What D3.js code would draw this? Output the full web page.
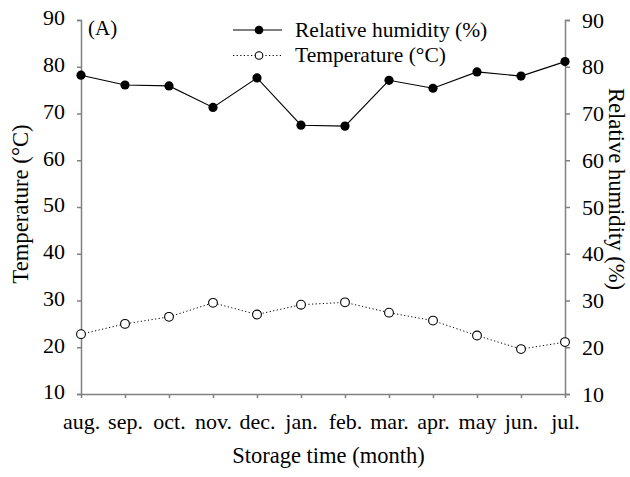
<!DOCTYPE html>
<html>
<head>
<meta charset="utf-8">
<script src="https://cdn.jsdelivr.net/npm/d3@7"></script>
<style>
  html, body { margin: 0; padding: 0; background: #fff; }
  svg { display: block; }
</style>
</head>
<body>
<svg id="chart" width="630" height="477"></svg>
<script>
// Monthly storage conditions
const months = ["aug.", "sep.", "oct.", "nov.", "dec.", "jan.", "feb.", "mar.", "apr.", "may", "jun.", "jul."];
const humidity = [78.2, 76.1, 75.9, 71.3, 77.6, 67.5, 67.3, 77.1, 75.4, 78.9, 78.0, 81.1];
const temperature = [22.8, 25.0, 26.5, 29.5, 27.0, 29.1, 29.6, 27.4, 25.7, 22.5, 19.6, 21.1];
const yTicks = [10, 20, 30, 40, 50, 60, 70, 80, 90];

const svg = d3.select("#chart");
const plotLeft = 81, plotRight = 565, plotTop = 20, plotBottom = 394;
const axisColor = "#808080";
const serif = "Liberation Serif, Times New Roman, serif";

const x = d3.scalePoint().domain(months).range([plotLeft, plotRight]);
const y = d3.scaleLinear().domain([10, 90]).range([plotBottom, plotTop]);

function styleAxis(g) {
  g.attr("font-family", serif);
  g.select(".domain").attr("stroke", axisColor).attr("stroke-width", 1.5);
  g.selectAll(".tick line").attr("stroke", axisColor).attr("stroke-width", 1.5);
  g.selectAll(".tick text").attr("fill", "#000");
}

// Left axis: temperature
svg.append("g")
  .attr("transform", `translate(${plotLeft},0)`)
  .call(d3.axisLeft(y).tickValues(yTicks).tickSize(4).tickSizeOuter(4).tickPadding(12))
  .call(styleAxis)
  .call(g => g.selectAll(".tick text").attr("font-size", 22).attr("dy", "0.22em"));

// Right axis: relative humidity
svg.append("g")
  .attr("transform", `translate(${plotRight},0)`)
  .call(d3.axisRight(y).tickValues(yTicks).tickSize(5).tickSizeOuter(5).tickPadding(12))
  .call(styleAxis)
  .call(g => g.selectAll(".tick text").attr("font-size", 22));

// Bottom axis: month
svg.append("g")
  .attr("transform", `translate(0,${plotBottom})`)
  .call(d3.axisBottom(x).tickSize(4).tickSizeOuter(0).tickPadding(15))
  .call(styleAxis)
  .call(g => g.selectAll(".tick text").attr("font-size", 22));

// Axis titles
svg.append("text")
  .attr("transform", `translate(28,204) rotate(-90)`)
  .attr("text-anchor", "middle")
  .attr("font-size", 22.7)
  .attr("font-family", serif)
  .text("Temperature (°C)");

svg.append("text")
  .attr("transform", `translate(609,189) rotate(90)`)
  .attr("text-anchor", "middle")
  .attr("font-size", 22.6)
  .attr("font-family", serif)
  .text("Relative humidity (%)");

svg.append("text")
  .attr("x", 328.5)
  .attr("y", 463)
  .attr("text-anchor", "middle")
  .attr("font-size", 22.5)
  .attr("font-family", serif)
  .text("Storage time (month)");

// Panel label
svg.append("text")
  .attr("x", 88)
  .attr("y", 35)
  .attr("font-size", 21)
  .attr("font-family", serif)
  .text("(A)");

const line = d3.line().x((d, i) => x(months[i])).y(d => y(d));

// Temperature: dotted line, open circles
svg.append("path")
  .datum(temperature)
  .attr("d", line)
  .attr("fill", "none")
  .attr("stroke", "#000")
  .attr("stroke-width", 1)
  .attr("stroke-dasharray", "1.2,2.4");

svg.append("g").selectAll("circle")
  .data(temperature)
  .join("circle")
  .attr("cx", (d, i) => x(months[i]))
  .attr("cy", d => y(d))
  .attr("r", 4.4)
  .attr("fill", "#fff")
  .attr("stroke", "#000")
  .attr("stroke-width", 1.1);

// Relative humidity: solid line, filled circles
svg.append("path")
  .datum(humidity)
  .attr("d", line)
  .attr("fill", "none")
  .attr("stroke", "#000")
  .attr("stroke-width", 1.1);

svg.append("g").selectAll("circle")
  .data(humidity)
  .join("circle")
  .attr("cx", (d, i) => x(months[i]))
  .attr("cy", d => y(d))
  .attr("r", 4.6)
  .attr("fill", "#000");

// Legend
const legend = svg.append("g");
const legendItems = [
  { label: "Relative humidity (%)", dash: null, fill: "#000", y: 30 },
  { label: "Temperature (°C)", dash: "1.2,2.4", fill: "#fff", y: 55.5 }
];
legendItems.forEach(item => {
  legend.append("line")
    .attr("x1", 233).attr("x2", 282)
    .attr("y1", item.y).attr("y2", item.y)
    .attr("stroke", "#000")
    .attr("stroke-width", 1.1)
    .attr("stroke-dasharray", item.dash);
  legend.append("circle")
    .attr("cx", 259).attr("cy", item.y)
    .attr("r", 3.8)
    .attr("fill", item.fill)
    .attr("stroke", "#000")
    .attr("stroke-width", 1.1);
  legend.append("text")
    .attr("x", 295).attr("y", item.y + 6.5)
    .attr("font-size", 21.5)
    .attr("font-family", serif)
    .text(item.label);
});
</script>
</body>
</html>
